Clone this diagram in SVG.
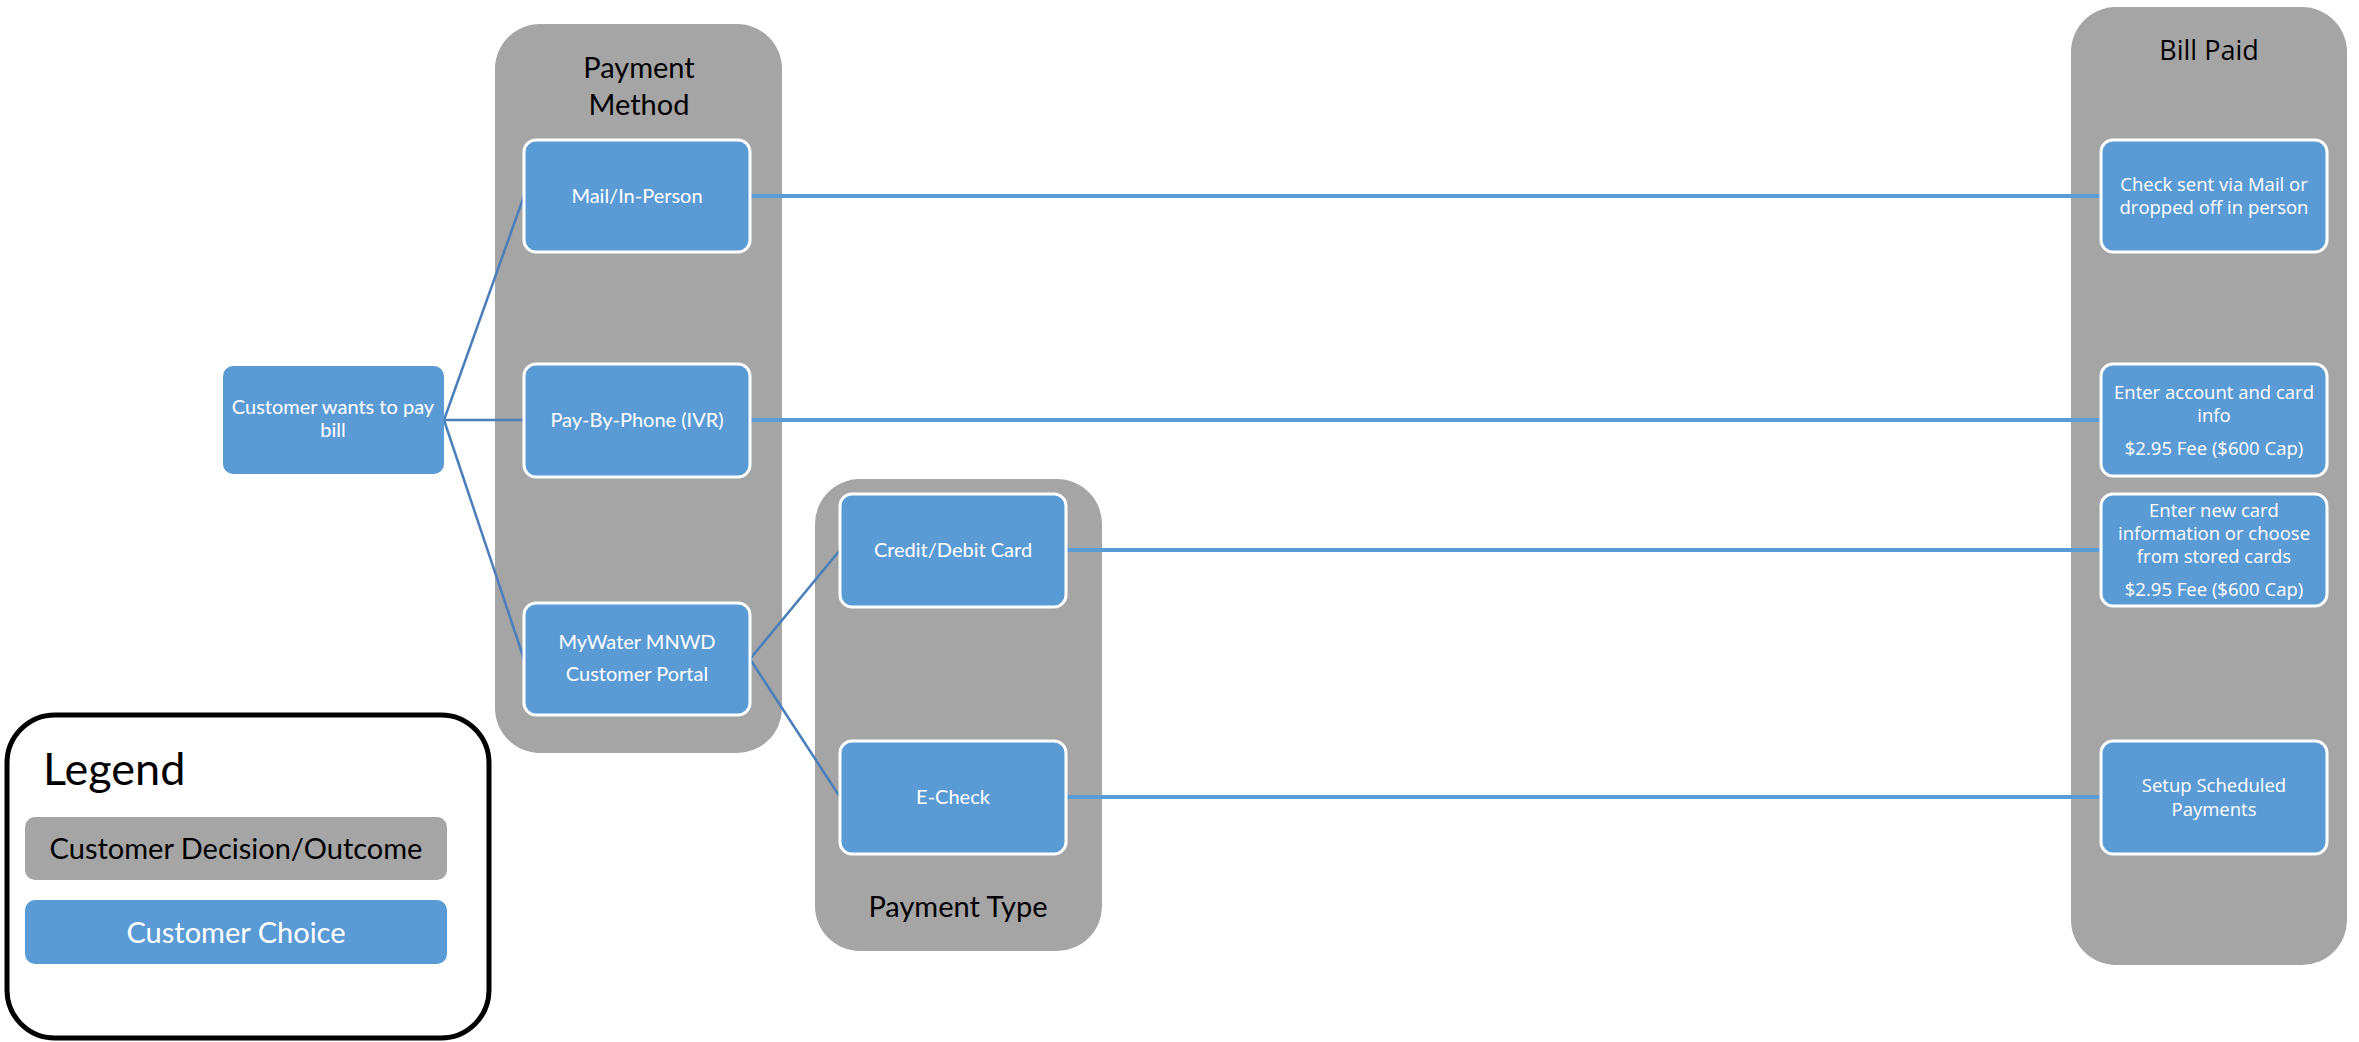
<svg xmlns="http://www.w3.org/2000/svg" width="2359" height="1042" viewBox="0 0 2359 1042">
<style>
.grp{fill:#a5a5a5}
.node{fill:#5b9bd5;stroke:#ffffff;stroke-width:3}
.t{font-family:Lato,"Liberation Sans",sans-serif;font-size:20px;fill:#ffffff;text-anchor:middle}
.s{font-family:"Open Sans","Liberation Sans",sans-serif;font-size:18.5px;fill:#ffffff;text-anchor:middle}
.title{font-family:Lato,"Liberation Sans",sans-serif;font-size:29px;fill:#000000;text-anchor:middle}
.title2{font-family:"Open Sans","Liberation Sans",sans-serif;font-size:27px;fill:#000000;text-anchor:middle}
.diag{stroke:#4a7ebb;stroke-width:2.5;fill:none}
.horiz{stroke:#5b9bd5;stroke-width:4;fill:none}
</style>
<rect width="2359" height="1042" fill="#ffffff"/>
<g id="group-payment-method">
<rect class="grp" x="495" y="24" width="287" height="729" rx="45"/>
<text class="title" x="639" y="78">Payment</text>
<text class="title" x="639" y="115">Method</text>
</g>
<g id="group-payment-type">
<rect class="grp" x="815" y="479" width="287" height="472" rx="45"/>
<text class="title" x="958" y="917">Payment Type</text>
</g>
<g id="group-bill-paid">
<rect class="grp" x="2071" y="7" width="276" height="958" rx="45"/>
<text class="title2" x="2209" y="60">Bill Paid</text>
</g>
<g id="connectors">
<line class="diag" x1="444" y1="420" x2="524" y2="196"/>
<line class="diag" x1="444" y1="420" x2="524" y2="420"/>
<line class="diag" x1="444" y1="420" x2="524" y2="659"/>
<line class="diag" x1="750" y1="659" x2="840" y2="550"/>
<line class="diag" x1="750" y1="659" x2="840" y2="797"/>
<line class="horiz" x1="750" y1="196" x2="2101" y2="196"/>
<line class="horiz" x1="750" y1="420" x2="2101" y2="420"/>
<line class="horiz" x1="1066" y1="550" x2="2101" y2="550"/>
<line class="horiz" x1="1066" y1="797" x2="2101" y2="797"/>
</g>
<g id="node-customer">
<rect x="223" y="366" width="221" height="108" rx="10" fill="#5b9bd5"/>
<text class="t" x="333" y="414">Customer wants to pay</text>
<text class="t" x="333" y="437">bill</text>
</g>
<g id="node-mail">
<rect class="node" x="524" y="140" width="226" height="112" rx="12"/>
<text class="t" x="637" y="203">Mail/In-Person</text>
</g>
<g id="node-phone">
<rect class="node" x="524" y="364" width="226" height="113" rx="12"/>
<text class="t" x="637" y="427">Pay-By-Phone (IVR)</text>
</g>
<g id="node-portal">
<rect class="node" x="524" y="603" width="226" height="112" rx="12"/>
<text class="t" x="637" y="649">MyWater MNWD</text>
<text class="t" x="637" y="681">Customer Portal</text>
</g>
<g id="node-card">
<rect class="node" x="840" y="494" width="226" height="113" rx="12"/>
<text class="t" x="953" y="557">Credit/Debit Card</text>
</g>
<g id="node-echeck">
<rect class="node" x="840" y="741" width="226" height="113" rx="12"/>
<text class="t" x="953" y="804">E-Check</text>
</g>
<g id="node-check-sent">
<rect class="node" x="2101" y="140" width="226" height="112" rx="12"/>
<text class="s" x="2214" y="191">Check sent via Mail or</text>
<text class="s" x="2214" y="214">dropped off in person</text>
</g>
<g id="node-enter-account">
<rect class="node" x="2101" y="364" width="226" height="112" rx="12"/>
<text class="s" x="2214" y="399">Enter account and card</text>
<text class="s" x="2214" y="422">info</text>
<text class="s" x="2214" y="455">$2.95 Fee ($600 Cap)</text>
</g>
<g id="node-enter-card">
<rect class="node" x="2101" y="494" width="226" height="112" rx="12"/>
<text class="s" x="2214" y="517">Enter new card</text>
<text class="s" x="2214" y="540">information or choose</text>
<text class="s" x="2214" y="563">from stored cards</text>
<text class="s" x="2214" y="596">$2.95 Fee ($600 Cap)</text>
</g>
<g id="node-scheduled">
<rect class="node" x="2101" y="741" width="226" height="113" rx="12"/>
<text class="s" x="2214" y="792">Setup Scheduled</text>
<text class="s" x="2214" y="816">Payments</text>
</g>
<g id="legend">
<rect x="7" y="715" width="482" height="323" rx="48" fill="#ffffff" stroke="#000000" stroke-width="5"/>
<text x="43" y="785" font-family="Lato,'Liberation Sans',sans-serif" font-size="45" fill="#000000">Legend</text>
<rect x="25" y="817" width="422" height="63" rx="10" fill="#a5a5a5"/>
<text x="236" y="859" font-family="Lato,'Liberation Sans',sans-serif" font-size="29" fill="#000000" text-anchor="middle">Customer Decision/Outcome</text>
<rect x="25" y="900" width="422" height="64" rx="10" fill="#5b9bd5"/>
<text x="236" y="943" font-family="Lato,'Liberation Sans',sans-serif" font-size="29" fill="#ffffff" text-anchor="middle">Customer Choice</text>
</g>
</svg>
